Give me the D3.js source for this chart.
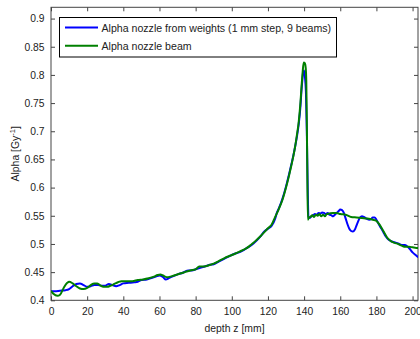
<!DOCTYPE html>
<html>
<head>
<meta charset="utf-8">
<script src="https://cdn.jsdelivr.net/npm/d3@7"></script>
<style>
  body { margin: 0; background: #fff; }
  svg { display: block; font-family: "Liberation Sans", Arial, sans-serif; }
  .axis text { font-size: 10.3px; fill: #222; }
  .axis line, .axis path { stroke: #444; }
</style>
</head>
<body>
<svg id="chart" width="420" height="339"></svg>
<script>
// depth z [mm] and alpha values
const depthWeights = [0,2,5,8,10,12,14,16,18,20,22,24,26,28,30,32,34,36,38,40,43,46,48,50,53,56,58,60,62,63.5,65,67,70,73,76,78,80,83,86,88,90,93,96,99,102,104,106,108,110,112,114,116,118,120,122,124,125,126,128,130,131,132,133,134,135,136,137,138,138.5,139,139.5,140,140.5,141,141.5,142,142.4,143,144,145,146,147,148,149,150,151,152,153,154,155,156,157,158,159,160,161,162,163,164,165,166,167,168,169,170,171,172,173,174,175,176,177,178,179,180,181,182,183,184,185,186,187,188,190,192,194,195.5,197,198.5,200,201.5,203,204];
const alphaWeights = [0.416,0.416,0.417,0.418,0.420,0.425,0.429,0.430,0.427,0.424,0.425,0.427,0.427,0.426,0.426,0.429,0.427,0.425,0.427,0.430,0.431,0.432,0.433,0.436,0.437,0.440,0.442,0.444,0.441,0.437,0.439,0.442,0.446,0.449,0.453,0.453,0.455,0.458,0.461,0.463,0.464,0.469,0.474,0.479,0.483,0.485,0.488,0.492,0.496,0.501,0.507,0.514,0.522,0.527,0.532,0.545,0.556,0.563,0.580,0.602,0.615,0.628,0.642,0.656,0.672,0.690,0.712,0.745,0.770,0.790,0.805,0.808,0.795,0.770,0.700,0.600,0.548,0.546,0.549,0.551,0.553,0.552,0.555,0.554,0.556,0.555,0.553,0.555,0.552,0.551,0.549,0.552,0.555,0.558,0.561,0.560,0.555,0.545,0.535,0.527,0.523,0.522,0.525,0.533,0.541,0.547,0.549,0.548,0.546,0.544,0.543,0.544,0.547,0.547,0.543,0.537,0.531,0.526,0.520,0.514,0.510,0.507,0.505,0.503,0.501,0.498,0.498,0.496,0.491,0.485,0.481,0.477,0.475];

const depthBeam = [0,1.5,3.5,5,7,9,10,12,14,16,18,20,22,24,25.5,27,29,31,33,35,37,39,42,45,48,51,54,57,59,60.5,62,64,66,68,71,74,77,80,82,84,86,88,90,93,96,99,102,104,106,108,110,112,114,116,118,120,122,124,126,128,130,132,134,135,136,137,138,138.6,139.2,139.8,140.4,140.9,141.2,141.5,141.8,142.1,142.6,143.5,144.5,145.5,146.5,147.5,148.5,149.5,150.5,151.5,152.5,154,156,158,160,163,166,169,172,175,178,180,182,184,186,188,190,192,194,196,198,200,202,204];
const alphaBeam = [0.417,0.411,0.408,0.410,0.422,0.431,0.433,0.430,0.425,0.421,0.420,0.422,0.427,0.430,0.430,0.427,0.424,0.424,0.426,0.429,0.432,0.434,0.434,0.434,0.436,0.437,0.439,0.442,0.445,0.446,0.444,0.441,0.442,0.444,0.447,0.450,0.453,0.455,0.460,0.460,0.461,0.463,0.465,0.470,0.475,0.479,0.483,0.486,0.489,0.492,0.497,0.502,0.508,0.514,0.521,0.528,0.534,0.548,0.562,0.578,0.600,0.626,0.655,0.672,0.693,0.716,0.752,0.780,0.805,0.822,0.821,0.812,0.790,0.720,0.620,0.543,0.547,0.548,0.551,0.548,0.552,0.550,0.553,0.549,0.552,0.549,0.553,0.554,0.555,0.555,0.553,0.552,0.548,0.547,0.546,0.545,0.543,0.541,0.533,0.522,0.511,0.505,0.502,0.500,0.497,0.495,0.495,0.494,0.493,0.493];

const xTicks = [0,20,40,60,80,100,120,140,160,180,200];
const yTicks = [0.4,0.45,0.5,0.55,0.6,0.65,0.7,0.75,0.8,0.85,0.9];
const yTickLabels = ['0.4','0.45','0.5','0.55','0.6','0.65','0.7','0.75','0.8','0.85','0.9'];
const seriesNames = ['Alpha nozzle from weights (1 mm step, 9 beams)', 'Alpha nozzle beam'];
const seriesColors = ['#0000ff', '#008000'];

const svg = d3.select('#chart');
const pLeft = 51, pRight = 418, pTop = 7.3, pBottom = 300.3;

const x = d3.scaleLinear().domain([0, 203]).range([pLeft, pRight]);
const y = d3.scaleLinear().domain([0.4, 0.92]).range([pBottom, pTop]);

svg.append('defs').append('clipPath').attr('id', 'plot-clip')
  .append('rect').attr('x', pLeft).attr('y', pTop)
  .attr('width', pRight - pLeft).attr('height', pBottom - pTop);

// axes, ticks inside on all four sides
svg.append('g').attr('class', 'axis')
  .attr('transform', 'translate(0,' + pBottom + ')')
  .call(d3.axisBottom(x).tickValues(xTicks).tickSize(-4).tickSizeOuter(0).tickPadding(7.5).tickFormat(d3.format('d')));
svg.append('g').attr('class', 'axis')
  .attr('transform', 'translate(0,' + pTop + ')')
  .call(d3.axisTop(x).tickValues(xTicks).tickSize(-4).tickSizeOuter(0).tickFormat(''));
svg.append('g').attr('class', 'axis')
  .attr('transform', 'translate(' + pLeft + ',0)')
  .call(d3.axisLeft(y).tickValues(yTicks).tickSize(-4).tickSizeOuter(0).tickPadding(6.5).tickFormat((d, i) => yTickLabels[i]));
svg.append('g').attr('class', 'axis')
  .attr('transform', 'translate(' + pRight + ',0)')
  .call(d3.axisRight(y).tickValues(yTicks).tickSize(-4).tickSizeOuter(0).tickFormat(''));
svg.selectAll('.axis path.domain').remove();
svg.selectAll('.axis').attr('font-family', null).attr('font-size', null);

svg.append('rect')
  .attr('x', pLeft).attr('y', pTop).attr('width', pRight - pLeft).attr('height', pBottom - pTop)
  .attr('fill', 'none').attr('stroke', '#444').attr('stroke-width', 1);

// curves
const line = d3.line().x(d => x(d[0])).y(d => y(d[1])).curve(d3.curveMonotoneX);
const plot = svg.append('g').attr('clip-path', 'url(#plot-clip)');
const series = [
  depthWeights.map((d, i) => [d, alphaWeights[i]]),
  depthBeam.map((d, i) => [d, alphaBeam[i]])
];
series.forEach((s, i) => {
  plot.append('path').datum(s)
    .attr('d', line)
    .attr('fill', 'none')
    .attr('stroke', seriesColors[i])
    .attr('stroke-width', 2)
    .attr('stroke-linejoin', 'round');
});

// labels
svg.append('text')
  .attr('x', (pLeft + pRight) / 2).attr('y', 332)
  .attr('text-anchor', 'middle').style('font-size', '10.4px').attr('fill', '#222')
  .text('depth z [mm]');
const yl = svg.append('text')
  .attr('transform', 'translate(19,' + ((pTop + pBottom) / 2) + ') rotate(-90)')
  .attr('text-anchor', 'middle').style('font-size', '10.4px').attr('fill', '#222');
yl.append('tspan').text('Alpha [Gy');
yl.append('tspan').attr('dy', -4).style('font-size', '7.5px').text('-1');
yl.append('tspan').attr('dy', 4).text(']');

// legend
const legend = svg.append('g');
legend.append('rect')
  .attr('x', 59.5).attr('y', 17.5).attr('width', 277).attr('height', 39.5)
  .attr('fill', '#fff').attr('stroke', '#000').attr('stroke-width', 1);
seriesNames.forEach((name, i) => {
  const ly = 27.5 + i * 18.3;
  legend.append('line')
    .attr('x1', 65).attr('x2', 98).attr('y1', ly).attr('y2', ly)
    .attr('stroke', seriesColors[i]).attr('stroke-width', 2);
  legend.append('text')
    .attr('x', 101.5).attr('y', ly + 4)
    .style('font-size', '10.6px').attr('fill', '#222')
    .text(name);
});
</script>
</body>
</html>
